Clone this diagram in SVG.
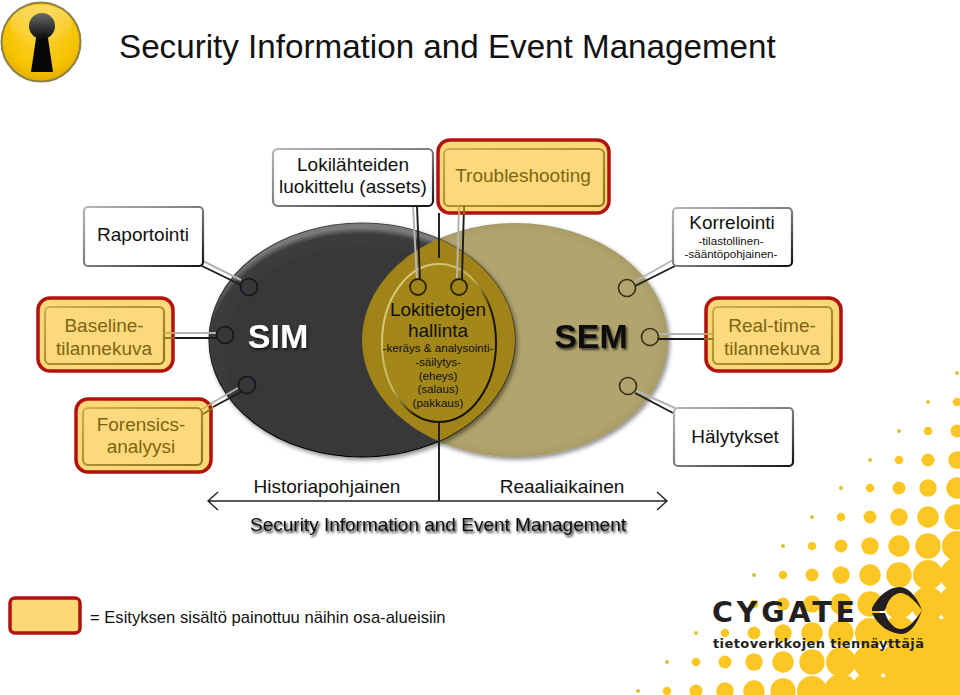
<svg xmlns="http://www.w3.org/2000/svg" width="960" height="695" viewBox="0 0 960 695">
<style>
text{font-family:"Liberation Sans",Arial,sans-serif;fill:#111}
.m{text-anchor:middle}
.b{font-size:19px}
.s{font-size:11.6px}
.h{font-size:19px;fill:#7f6511}
.box{fill:#fff;stroke:url(#bs);stroke-width:2.2}
.ro{fill:#fdd877;stroke:#b2120f;stroke-width:3.5}
.ri{fill:#fcd97c;stroke:url(#is);stroke-width:2.2}
.cl{stroke:#b4b4b4;stroke-width:2;fill:none}
.cd{stroke:#1c1c1c;stroke-width:1.9;fill:none}
.ax{stroke:#222;stroke-width:1.4;fill:none}
.ol{stroke:#c9ae55;stroke-width:1.8;fill:none}
.od{stroke:#8c7214;stroke-width:1.8;fill:none}
.pd{fill:#37373a;stroke:#15151a;stroke-width:1.6}
.pe{fill:#b1a46e;stroke:#37300f;stroke-width:1.6}
.po{fill:#a08418;stroke:#2a2200;stroke-width:1.8}
.d{fill:#fcc724}
.t{fill:#d8c23a}
</style>
<defs>
<linearGradient id="bs" x1="0" y1="0" x2="1" y2="1"><stop offset="0" stop-color="#b5b5b5"/><stop offset=".55" stop-color="#777"/><stop offset="1" stop-color="#111"/></linearGradient>
<linearGradient id="is" x1="0" y1="0" x2="1" y2="1"><stop offset="0" stop-color="#c9ae55"/><stop offset="1" stop-color="#8c7214"/></linearGradient>
<linearGradient id="ins" x1="0" y1="0" x2="1" y2="1"><stop offset="0" stop-color="#e2d48c"/><stop offset=".45" stop-color="#c8b25a"/><stop offset=".62" stop-color="#1c1600"/><stop offset="1" stop-color="#120e00"/></linearGradient>
<radialGradient id="gd" cx=".5" cy=".55" r=".53"><stop offset=".8" stop-color="#38383a"/><stop offset=".95" stop-color="#3c3c3e"/><stop offset="1" stop-color="#7a7a7a"/></radialGradient>
<linearGradient id="gds" x1="0" y1="0" x2="0" y2="1"><stop offset="0" stop-color="#444"/><stop offset=".6" stop-color="#222"/><stop offset="1" stop-color="#000"/></linearGradient>
<radialGradient id="ge" cx=".5" cy=".5" r=".51"><stop offset=".9" stop-color="#b1a46e"/><stop offset=".97" stop-color="#aa9d68"/><stop offset="1" stop-color="#94895a"/></radialGradient>
<radialGradient id="gk" cx=".5" cy=".4" r=".6"><stop offset="0" stop-color="#ffd33a"/><stop offset=".75" stop-color="#f6c300"/><stop offset="1" stop-color="#e3ac00"/></radialGradient>
<linearGradient id="gh" x1="0" y1="0" x2="0" y2="1"><stop offset="0" stop-color="#6a6a6a"/><stop offset="1" stop-color="#0a0a0a"/></linearGradient>
<linearGradient id="gs" x1="0" y1="0" x2="0" y2="1"><stop offset="0" stop-color="#fff" stop-opacity=".35"/><stop offset="1" stop-color="#fff" stop-opacity="0"/></linearGradient>
<clipPath id="cs"><ellipse cx="362" cy="340" rx="153" ry="117"/></clipPath>
<filter id="sh" x="-20%" y="-20%" width="140%" height="140%"><feDropShadow dx="2" dy="2.5" stdDeviation="2" flood-color="#000" flood-opacity=".45"/></filter>
<filter id="ts" x="-10%" y="-40%" width="120%" height="180%"><feDropShadow dx="1.5" dy="2" stdDeviation="1.2" flood-color="#000" flood-opacity=".6"/></filter>
<filter id="tb" x="-10%" y="-40%" width="120%" height="180%"><feDropShadow dx="1.5" dy="2" stdDeviation="1.3" flood-color="#000" flood-opacity=".9"/></filter>
</defs>
<rect width="960" height="695" fill="#fff"/>
<g id="dots">
<circle class="t" cx="957" cy="373" r="2"/>
<circle class="t" cx="928" cy="402" r="2"/><circle class="d" cx="957" cy="402" r="4.3"/>
<circle class="t" cx="899" cy="431" r="2"/><circle class="d" cx="928" cy="431" r="4.3"/><circle class="d" cx="957" cy="431" r="6.5"/>
<circle class="t" cx="870" cy="460" r="2"/><circle class="d" cx="899" cy="460" r="4.3"/><circle class="d" cx="928" cy="460" r="6.5"/><circle class="d" cx="957" cy="460" r="8.7"/>
<circle class="t" cx="841" cy="488" r="2"/><circle class="d" cx="870" cy="488" r="4.3"/><circle class="d" cx="899" cy="488" r="6.5"/><circle class="d" cx="928" cy="488" r="8.7"/><circle class="d" cx="957" cy="488" r="10.7"/>
<circle class="t" cx="812" cy="517" r="2"/><circle class="d" cx="841" cy="517" r="4.3"/><circle class="d" cx="870" cy="517" r="6.5"/><circle class="d" cx="899" cy="517" r="8.7"/><circle class="d" cx="928" cy="517" r="10.7"/><circle class="d" cx="957" cy="517" r="12.7"/>
<circle class="t" cx="783" cy="546" r="2"/><circle class="d" cx="812" cy="546" r="4.3"/><circle class="d" cx="841" cy="546" r="6.5"/><circle class="d" cx="870" cy="546" r="8.7"/><circle class="d" cx="899" cy="546" r="10.7"/><circle class="d" cx="928" cy="546" r="12.7"/><circle class="d" cx="957" cy="546" r="15"/>
<circle class="t" cx="754" cy="575" r="2"/><circle class="d" cx="783" cy="575" r="4.3"/><circle class="d" cx="812" cy="575" r="6.5"/><circle class="d" cx="841" cy="575" r="8.7"/><circle class="d" cx="870" cy="575" r="10.7"/><circle class="d" cx="899" cy="575" r="12.7"/><circle class="d" cx="928" cy="575" r="15"/><circle class="d" cx="957" cy="575" r="17"/>
<circle class="t" cx="725" cy="604" r="2"/><circle class="d" cx="754" cy="604" r="4.3"/><circle class="d" cx="783" cy="604" r="6.5"/><circle class="d" cx="812" cy="604" r="8.7"/><circle class="d" cx="841" cy="604" r="10.7"/><circle class="d" cx="870" cy="604" r="12.7"/><circle class="d" cx="899" cy="604" r="15"/><circle class="d" cx="928" cy="604" r="17"/><circle class="d" cx="957" cy="604" r="19"/>
<circle class="t" cx="696" cy="633" r="2"/><circle class="d" cx="725" cy="633" r="4.3"/><circle class="d" cx="754" cy="633" r="6.5"/><circle class="d" cx="783" cy="633" r="8.7"/><circle class="d" cx="812" cy="633" r="10.7"/><circle class="d" cx="841" cy="633" r="12.7"/><circle class="d" cx="870" cy="633" r="15"/><circle class="d" cx="899" cy="633" r="17"/><circle class="d" cx="928" cy="633" r="19"/><circle class="d" cx="957" cy="633" r="20.3"/>
<circle class="t" cx="667" cy="662" r="2"/><circle class="d" cx="696" cy="662" r="4.3"/><circle class="d" cx="725" cy="662" r="6.5"/><circle class="d" cx="754" cy="662" r="8.7"/><circle class="d" cx="783" cy="662" r="10.7"/><circle class="d" cx="812" cy="662" r="12.7"/><circle class="d" cx="841" cy="662" r="15"/><circle class="d" cx="870" cy="662" r="17"/><circle class="d" cx="899" cy="662" r="19"/><circle class="d" cx="928" cy="662" r="20.3"/><circle class="d" cx="957" cy="662" r="23"/>
<circle class="t" cx="638" cy="691" r="2"/><circle class="d" cx="667" cy="691" r="4.3"/><circle class="d" cx="696" cy="691" r="6.5"/><circle class="d" cx="725" cy="691" r="8.7"/><circle class="d" cx="754" cy="691" r="10.7"/><circle class="d" cx="783" cy="691" r="12.7"/><circle class="d" cx="812" cy="691" r="15"/><circle class="d" cx="841" cy="691" r="17"/><circle class="d" cx="870" cy="691" r="19"/><circle class="d" cx="899" cy="691" r="20.3"/><circle class="d" cx="928" cy="691" r="23"/><circle class="d" cx="957" cy="691" r="25"/>
</g>
<g id="badge">
<circle cx="41" cy="42" r="39.5" fill="url(#gk)" stroke="#8d8049" stroke-width="2"/>
<ellipse cx="41" cy="24" rx="31" ry="19" fill="url(#gs)"/>
<path d="M36 38 L31 72 H53 L48 38 Z" fill="#070707"/>
<circle cx="42" cy="26" r="13" fill="url(#gh)"/>
</g>
<text x="119" y="58" font-size="33.2" style="fill:#111">Security Information and Event Management</text>
<g id="sem"><ellipse cx="515" cy="340" rx="153" ry="117" fill="url(#ge)" filter="url(#sh)"/></g>
<g id="sim"><ellipse cx="362" cy="340" rx="153" ry="117" fill="url(#gd)" stroke="url(#gds)" stroke-width="1.2" filter="url(#sh)"/><text x="278" y="348" font-size="34" font-weight="700" class="m" style="fill:#fff" filter="url(#ts)">SIM</text></g>
<g id="overlap"><ellipse cx="515" cy="340" rx="153" ry="117" fill="#a08418" clip-path="url(#cs)"/><ellipse cx="439" cy="343" rx="57" ry="79" fill="#a38719" stroke="url(#ins)" stroke-width="2"/></g>
<g id="connectors">
<path class="cd" d="M439 213V258M439 422V501"/>
<path class="ax" d="M208 501H667M218 492L208 501L218 510M657 492L667 501L657 510"/>
<path class="cl" d="M203 261L241 280"/><path class="cd" d="M200 265L243 286"/><circle class="pd" cx="249" cy="287" r="8.5"/>
<path class="cl" d="M164 333H218"/><path class="cd" d="M164 338H218"/><circle class="pd" cx="225" cy="335" r="8.5"/>
<path class="cl" d="M203 408L238 388"/><path class="cd" d="M213 407L241 392"/><circle class="pd" cx="247" cy="385" r="8.5"/>
<path class="cl" d="M413 206L417 280"/><path class="cd" d="M417 206L420 280"/><circle class="po" cx="418" cy="287" r="8"/>
<path class="cl" d="M459 206L457 279"/><path class="cd" d="M464 206L462 279"/><circle class="po" cx="459" cy="287" r="8"/>
<path class="cl" d="M673 260L634 282"/><path class="cd" d="M675 266L635 286"/><circle class="pe" cx="627" cy="288" r="8.5"/>
<path class="cl" d="M657 334H715"/><path class="cd" d="M657 339H715"/><circle class="pe" cx="650" cy="337" r="8.5"/>
<path class="cl" d="M635 390L675 408"/><path class="cd" d="M635 393L673 413"/><circle class="pe" cx="628" cy="386" r="8.5"/>
</g>
<g id="lokitietojen">
<text x="438" y="316" class="m" font-size="19">Lokitietojen</text>
<text x="438" y="337" class="m" font-size="19">hallinta</text>
<text x="438" y="352" class="m s">-keräys &amp; analysointi-</text>
<text x="438" y="366" class="m s">-säilytys-</text>
<text x="438" y="380" class="m s">(eheys)</text>
<text x="438" y="393" class="m s">(salaus)</text>
<text x="438" y="407" class="m s">(pakkaus)</text>
</g>
<g id="sem-label"><text x="591" y="348" font-size="34" font-weight="700" class="m" filter="url(#ts)">SEM</text></g>
<g id="raportointi"><rect class="box" x="84" y="207" width="119" height="59" rx="4"/><text x="143" y="241" class="m b">Raportointi</text></g>
<g id="lokilahteiden"><rect class="box" x="273" y="149" width="160" height="57" rx="5"/><text x="353" y="171" class="m b">Lokilähteiden</text><text x="353" y="193" class="m b">luokittelu (assets)</text></g>
<g id="troubleshooting"><rect class="ro" x="438" y="140" width="171" height="73" rx="12"/><rect class="ri" x="444" y="149" width="160" height="57" rx="5"/><text x="523" y="182" class="m h">Troubleshooting</text></g>
<g id="korrelointi"><rect class="box" x="673" y="208" width="119" height="58" rx="4"/><text x="732" y="229" class="m b">Korrelointi</text><text x="731" y="245" class="m s">-tilastollinen-</text><text x="731" y="258" class="m s">-sääntöpohjainen-</text></g>
<g id="realtime"><rect class="ro" x="706" y="298" width="135" height="73" rx="12"/><rect class="ri" x="713" y="307" width="119" height="57" rx="5"/><text x="772" y="332" class="m h">Real-time-</text><text x="772" y="355" class="m h">tilannekuva</text></g>
<g id="halytykset"><rect class="box" x="674" y="408" width="119" height="58" rx="4"/><text x="735" y="443" class="m b">Hälytykset</text></g>
<g id="baseline"><rect class="ro" x="38" y="298" width="135" height="73" rx="12"/><rect class="ri" x="45" y="307" width="119" height="57" rx="5"/><text x="104" y="332" class="m h">Baseline-</text><text x="104" y="355" class="m h">tilannekuva</text></g>
<g id="forensics"><rect class="ro" x="76" y="399" width="135" height="73" rx="12"/><rect class="ri" x="83" y="408" width="119" height="57" rx="5"/><text x="141" y="431" class="m h">Forensics-</text><text x="141" y="453" class="m h">analyysi</text></g>
<g id="connector-ends">
<path class="ol" d="M164 333H175"/><path class="od" d="M164 338H175"/>
<path class="ol" d="M704 334H713"/><path class="od" d="M704 339H713"/>
<path class="ol" d="M459 206V215"/><path class="od" d="M464 206V215"/>
<path class="ol" d="M202 409L213 403"/><path class="od" d="M203 414L213 408"/>
</g>
<g id="axis">
<text x="327" y="493" class="m b">Historiapohjainen</text>
<text x="562" y="493" class="m b">Reaaliaikainen</text>
<text x="438" y="531" class="m b" filter="url(#tb)">Security Information and Event Management</text>
</g>
<g id="legend"><rect class="ro" x="10" y="598" width="70" height="35" rx="5"/><text x="90" y="623" font-size="16.6">= Esityksen sisältö painottuu näihin osa-alueisiin</text></g>
<g id="logo">
<text x="712" y="622" font-size="28.5" font-weight="700" textLength="143" lengthAdjust="spacing" style="font-family:'DejaVu Sans',sans-serif;fill:#231f20">CYGATE</text>
<path d="M872 608C878 596 889 587 900 587C911 588 918 600 922 610C915 601 908 593 900 593C893 594 888 600 886 608L884 611H872Z" fill="#231f20"/>
<path d="M872 613H885C887 619 890 624 896 628C904 632 914 624 922 610C918 622 912 632 903 634C890 634 878 626 872 613Z" fill="#231f20"/>
<text x="713" y="648" font-size="13" font-weight="700" textLength="211" lengthAdjust="spacing" style="font-family:'DejaVu Sans',sans-serif;fill:#231f20">tietoverkkojen tiennäyttäjä</text>
</g>
</svg>
